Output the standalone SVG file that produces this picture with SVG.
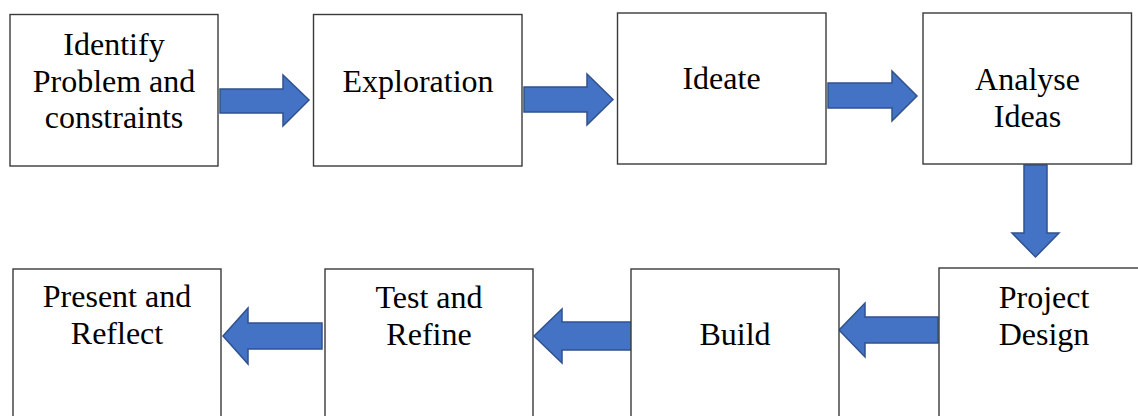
<svg xmlns="http://www.w3.org/2000/svg" width="1138" height="416" viewBox="0 0 1138 416">
<style>
.box{fill:#fff;stroke:#3a3a3a;stroke-width:1.4}
.lbl{font-family:'Liberation Serif','Times New Roman',serif;font-size:32px;fill:#000;text-anchor:middle}
.arr{fill:#4472C4;stroke:#2F528F;stroke-width:1.5;stroke-linejoin:miter}
</style>
<rect width="1138" height="416" fill="#fff"/>
<g id="connectors">
<polygon class="arr" points="220,89 283,89 283,75 309,100 283,126 283,113 220,113"/>
<polygon class="arr" points="524,87 587,87 587,74 613,99.5 587,125 587,112 524,112"/>
<polygon class="arr" points="828,83 892,83 892,71 917,96 892,121 892,108 828,108"/>
<polygon class="arr" points="1024,165 1047,165 1047,233 1059,233 1035.5,257 1012,233 1024,233"/>
<polygon class="arr" points="938,317 865,317 865,303 839,330 865,357 865,343 938,343"/>
<polygon class="arr" points="634,322 562,322 562,309 534,336 562,363 562,350 634,350"/>
<polygon class="arr" points="322,323 248,323 248,308 223,336 248,364 248,349 322,349"/>
</g>
<g id="n1"><rect class="box" x="10" y="14.5" width="208" height="151.5"/>
<text class="lbl" x="114" y="55">Identify</text><text class="lbl" x="114" y="92">Problem and</text><text class="lbl" x="114" y="128">constraints</text></g>
<g id="n2"><rect class="box" x="313.5" y="14.5" width="208.5" height="151.5"/>
<text class="lbl" x="418" y="92">Exploration</text></g>
<g id="n3"><rect class="box" x="617.5" y="13" width="208.5" height="151"/>
<text class="lbl" x="721.5" y="89">Ideate</text></g>
<g id="n4"><rect class="box" x="923" y="13" width="208.5" height="151"/>
<text class="lbl" x="1027.5" y="90">Analyse</text><text class="lbl" x="1027.5" y="127">Ideas</text></g>
<g id="n5"><rect class="box" x="939" y="268" width="210" height="160"/>
<text class="lbl" x="1044" y="308">Project</text><text class="lbl" x="1044" y="345">Design</text></g>
<g id="n6"><rect class="box" x="631" y="269" width="208" height="160"/>
<text class="lbl" x="735" y="345">Build</text></g>
<g id="n7"><rect class="box" x="325" y="269" width="208" height="160"/>
<text class="lbl" x="429" y="308">Test and</text><text class="lbl" x="429" y="345">Refine</text></g>
<g id="n8"><rect class="box" x="13" y="269" width="208" height="160"/>
<text class="lbl" x="117" y="307">Present and</text><text class="lbl" x="117" y="344">Reflect</text></g>
</svg>
